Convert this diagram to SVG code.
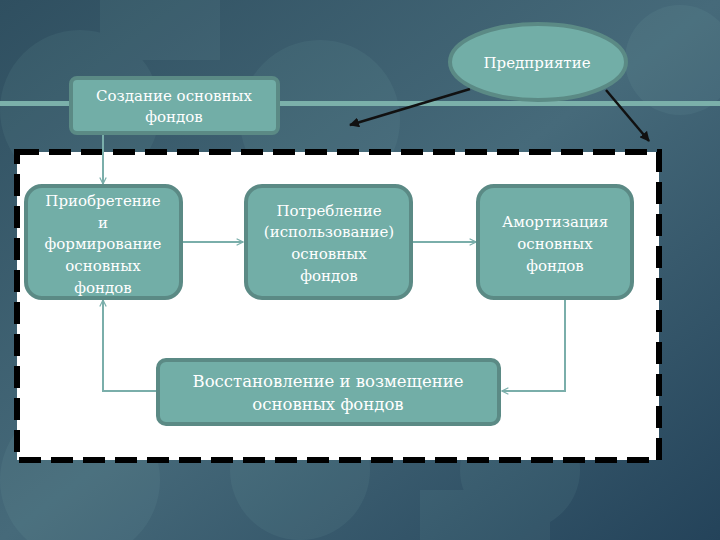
<svg xmlns="http://www.w3.org/2000/svg" width="720" height="540" viewBox="0 0 720 540">
<defs>
<linearGradient id="bg" x1="0" y1="0" x2="1" y2="1">
<stop offset="0" stop-color="#2f4f60"/>
<stop offset="0.5" stop-color="#466a7a"/>
<stop offset="1" stop-color="#24435a"/>
</linearGradient>
<marker id="ta" viewBox="0 0 10 10" refX="9" refY="5" markerWidth="4" markerHeight="4" orient="auto-start-reverse">
<path d="M1,1 L9,5 L1,9" fill="none" stroke="#7aaeaa" stroke-width="1.5"/>
</marker>
<marker id="ba" viewBox="0 0 10 10" refX="9" refY="5" markerWidth="4" markerHeight="4" orient="auto">
<path d="M0,0 L10,5 L0,10 z" fill="#111"/>
</marker>
<style>
.box{fill:#72aea7;stroke:#5b8a85;stroke-width:4}
.t{font-family:"DejaVu Serif","Liberation Serif",serif;font-size:15px;fill:#ffffff;text-anchor:middle}
.c{fill:none;stroke:#7aaeaa;stroke-width:2;marker-end:url(#ta)}
.k{fill:none;stroke:#111;stroke-width:2.5;marker-end:url(#ba)}
</style>
</defs>
<rect width="720" height="540" fill="url(#bg)"/>
<g fill="#8fc4c0" opacity="0.08">
<circle cx="80" cy="110" r="80"/>
<circle cx="320" cy="120" r="80"/>
<circle cx="560" cy="220" r="60"/>
<circle cx="80" cy="480" r="80"/>
<circle cx="300" cy="470" r="70"/>
<circle cx="520" cy="470" r="60"/>
<circle cx="680" cy="60" r="55"/>
<rect x="100" y="0" width="120" height="60"/>
<rect x="420" y="490" width="130" height="50"/>
</g>
<rect x="0" y="101" width="720" height="5" fill="#7bb0aa"/>
<rect x="17" y="152" width="642" height="308" fill="#ffffff" stroke="#000" stroke-width="6" stroke-dasharray="22,10"/>
<g id="connectors">
<path class="c" d="M103,134 V184"/>
<path class="c" d="M183,242 H243"/>
<path class="c" d="M413,242 H476"/>
<path class="c" d="M565,300 V391 H502"/>
<path class="c" d="M156,391 H103 V300"/>
<path class="k" d="M470,89 L350,125"/>
<path class="k" d="M606,90 L649,141"/>
</g>
<g id="n-enterprise">
<ellipse cx="538" cy="62" rx="88" ry="38" fill="#72aea7" stroke="#5b8a85" stroke-width="4"/>
<text class="t" x="537" y="68">Предприятие</text>
</g>
<g id="n-creation">
<rect class="box" x="71" y="78" width="207" height="55" rx="6"/>
<text class="t" x="174" y="101">Создание основных</text>
<text class="t" x="174" y="122">фондов</text>
</g>
<g id="n-acquire">
<rect class="box" x="26" y="186" width="155" height="112" rx="16"/>
<text class="t" x="103" y="206">Приобретение</text>
<text class="t" x="103" y="228">и</text>
<text class="t" x="103" y="249">формирование</text>
<text class="t" x="103" y="271">основных</text>
<text class="t" x="103" y="293">фондов</text>
</g>
<g id="n-consume">
<rect class="box" x="246" y="186" width="165" height="112" rx="16"/>
<text class="t" x="329" y="216">Потребление</text>
<text class="t" x="329" y="237">(использование)</text>
<text class="t" x="329" y="259">основных</text>
<text class="t" x="329" y="281">фондов</text>
</g>
<g id="n-amort">
<rect class="box" x="478" y="186" width="154" height="112" rx="16"/>
<text class="t" x="555" y="227">Амортизация</text>
<text class="t" x="555" y="249">основных</text>
<text class="t" x="555" y="271">фондов</text>
</g>
<g id="n-restore">
<rect class="box" x="158" y="360" width="341" height="64" rx="8"/>
<text class="t" x="328" y="387" style="font-size:16.5px">Восстановление и возмещение</text>
<text class="t" x="328" y="410" style="font-size:16.5px">основных фондов</text>
</g>
</svg>
